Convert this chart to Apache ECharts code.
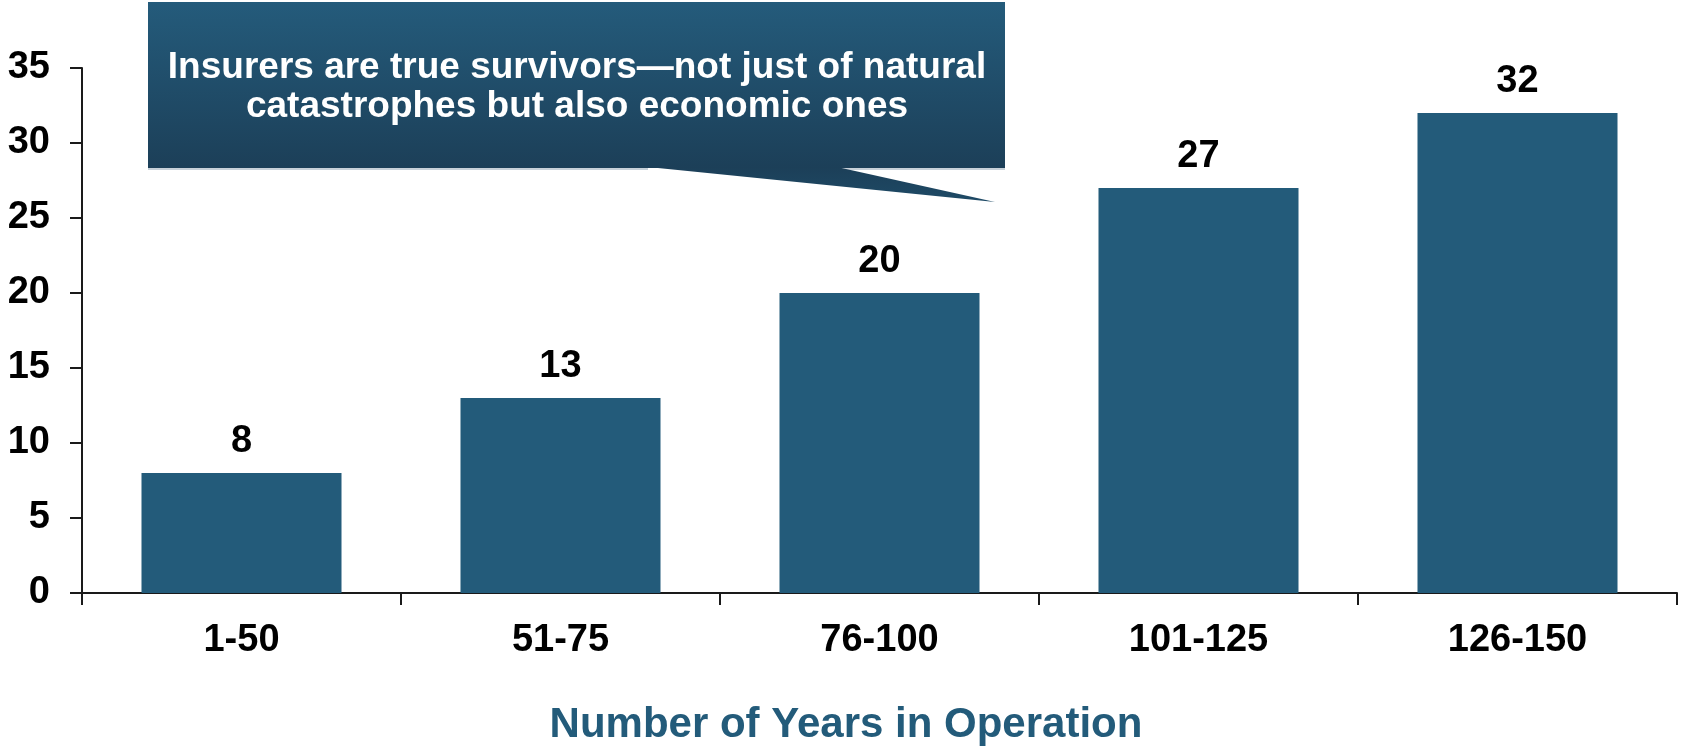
<!DOCTYPE html>
<html>
<head>
<meta charset="utf-8">
<script src="https://cdn.jsdelivr.net/npm/echarts@6/dist/echarts.min.js"></script>
<style>
html,body{margin:0;padding:0;background:#fff;}
#chart{width:1681px;height:751px;}
</style>
</head>
<body>
<div id="chart"></div>
<script>
const categories = ['1-50', '51-75', '76-100', '101-125', '126-150'];
const values = [8, 13, 20, 27, 32];
const yMin = 0, yMax = 35, yStep = 5;
const axisTitle = 'Number of Years in Operation';
const calloutLines = ['Insurers are true survivors\u2014not just of natural', 'catastrophes but also economic ones'];

const FONT = "'Liberation Sans', Arial, Helvetica, sans-serif";
const BAR = '#235B7A';
const AXIS = '#1a1a1a';

const chart = echarts.init(document.getElementById('chart'), null, {renderer: 'canvas'});
chart.setOption({
  animation: false,
  backgroundColor: '#ffffff',
  grid: {left: 82, right: 4, top: 68, bottom: 158, containLabel: false},
  xAxis: {
    type: 'category',
    data: categories,
    boundaryGap: true,
    axisLine: {show: true, lineStyle: {color: AXIS, width: 2}},
    axisTick: {show: true, length: 12, alignWithLabel: false, lineStyle: {color: AXIS, width: 2}},
    axisLabel: {color: '#000', fontFamily: FONT, fontWeight: 'bold', fontSize: 38, margin: 29}
  },
  yAxis: {
    type: 'value',
    min: yMin, max: yMax, interval: yStep,
    splitLine: {show: false},
    axisLine: {show: true, lineStyle: {color: AXIS, width: 2}},
    axisTick: {show: true, length: 12, lineStyle: {color: AXIS, width: 2}},
    axisLabel: {color: '#000', fontFamily: FONT, fontWeight: 'bold', fontSize: 38, margin: 32}
  },
  series: [{
    type: 'bar',
    data: values,
    barWidth: '62.7%',
    itemStyle: {color: BAR},
    label: {show: true, position: 'top', distance: 12, color: '#000', fontFamily: FONT, fontWeight: 'bold', fontSize: 38}
  }],
  graphic: [
    {
      type: 'rect',
      shape: {x: 148, y: 2, width: 857, height: 166},
      style: {fill: new echarts.graphic.LinearGradient(0, 0, 0, 1, [
        {offset: 0, color: '#245B7B'},
        {offset: 1, color: '#1C3F58'}
      ])},
      z: 10
    },
    {
      type: 'polygon',
      shape: {points: [[648, 167], [837, 167], [995, 202]]},
      style: {fill: new echarts.graphic.LinearGradient(0, 0, 0, 1, [
        {offset: 0, color: '#1C3F58'},
        {offset: 1, color: '#1E4A66'}
      ])},
      z: 10
    },
    {
      type: 'line',
      shape: {x1: 148, y1: 169, x2: 648, y2: 169},
      style: {stroke: '#B5C2CC', lineWidth: 1.5},
      z: 9
    },
    {
      type: 'line',
      shape: {x1: 837, y1: 169, x2: 1005, y2: 169},
      style: {stroke: '#B5C2CC', lineWidth: 1.5},
      z: 9
    },
    {
      type: 'text',
      x: 577, y: 87,
      style: {
        text: calloutLines.join('\n'),
        fill: '#ffffff',
        font: "bold 37px " + FONT,
        textAlign: 'center',
        textVerticalAlign: 'middle',
        verticalAlign: 'middle',
        align: 'center',
        lineHeight: 39
      },
      z: 11
    },
    {
      type: 'text',
      x: 846, y: 725,
      style: {
        text: axisTitle,
        fill: BAR,
        font: "bold 42px " + FONT,
        textAlign: 'center',
        align: 'center',
        textVerticalAlign: 'middle',
        verticalAlign: 'middle'
      },
      z: 11
    }
  ]
});
</script>
</body>
</html>
